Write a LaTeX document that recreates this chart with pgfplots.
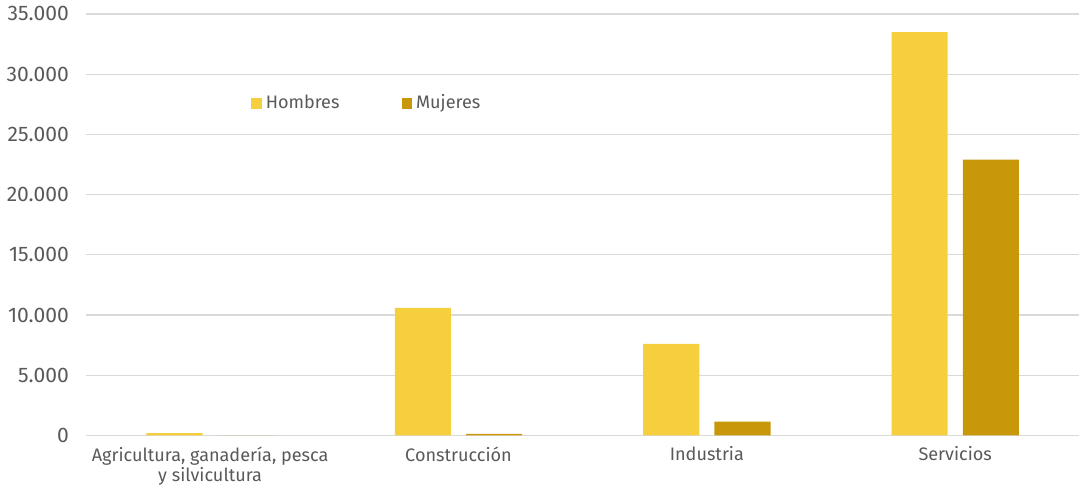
\documentclass[border=0pt]{standalone}
\usepackage{fontspec}
\setmainfont{Fira Sans}
\usepackage{pgfplots}
\pgfplotsset{compat=1.18}
\definecolor{H}{HTML}{F6CF3E}
\definecolor{M}{HTML}{C8980A}
\definecolor{txt}{HTML}{595959}
\definecolor{grd}{HTML}{D9D9D9}
\begin{document}
\begin{tikzpicture}
\begin{axis}[
  scale only axis, width=495pt, height=210pt,
  ybar=7.5pt, bar width=28pt,
  xmin=-0.5, xmax=3.5, ymin=0, ymax=35000,
  xtick=data,
  xticklabels={{Agricultura, ganadería, pesca\\y silvicultura},Construcción,Industria,Servicios},
  xticklabel style={align=center, text=txt, font=\fontsize{9}{10}\selectfont, yshift=-2pt},
  ytick={0,5000,...,35000},
  yticklabel style={text=txt, font=\fontsize{10.5}{11}\selectfont, xshift=-5pt},
  /pgf/number format/.cd, use comma, 1000 sep={.}, assume math mode=true, /pgfplots/.cd,
  scaled y ticks=false,
  major tick length=0pt,
  ymajorgrids, grid style={grd, line width=0.6pt},
  axis x line*=bottom,
  axis y line*=left,
  y axis line style={draw=none},
  x axis line style={draw=grd, line width=0.6pt, -},
  enlargelimits=false,
  clip=false,
  legend style={at={(0.16,0.788)}, anchor=west, draw=none, fill=none,
    legend columns=-1, text=txt, font=\fontsize{9}{10}\selectfont,
    /tikz/every even column/.append style={column sep=29pt}},
  legend image code/.code={\fill[#1] (0pt,-2.6pt) rectangle (5.2pt,2.6pt);},
]
\addplot[fill=H, draw=none] coordinates {(0,200) (1,10600) (2,7600) (3,33500)};
\addplot[fill=M, draw=none] coordinates {(0,10) (1,130) (2,1150) (3,22900)};
\legend{Hombres, Mujeres}
\end{axis}
\end{tikzpicture}
\end{document}
